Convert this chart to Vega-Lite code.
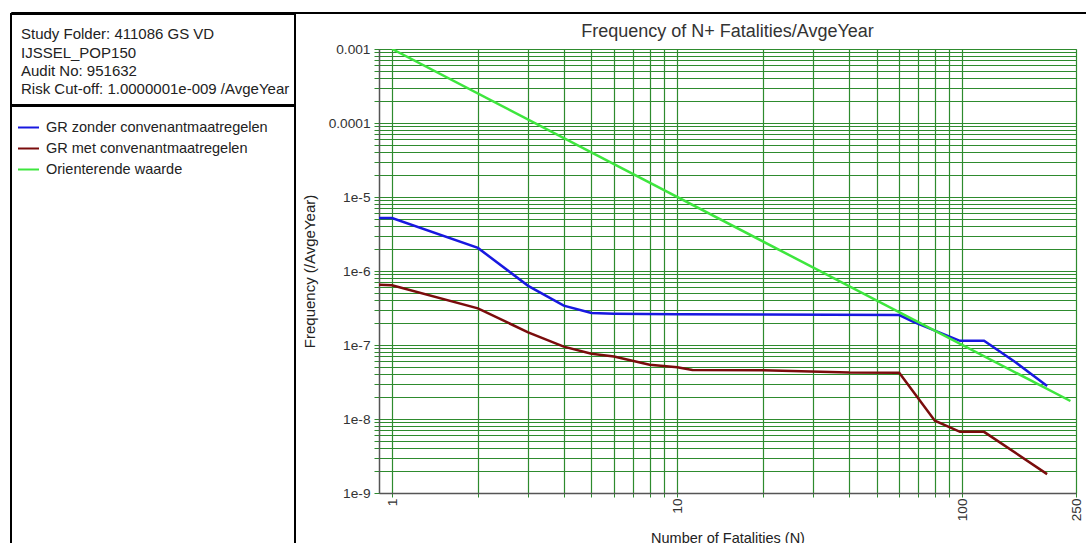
{
  "$schema": "https://vega.github.io/schema/vega-lite/v6.json",
  "background": "white",
  "padding": {"left": 10, "top": 11, "right": 0, "bottom": 0},
  "config": {
    "font": "Liberation Sans",
    "view": {"stroke": "black", "strokeWidth": 2},
    "title": {"fontWeight": "normal", "color": "#333"}
  },
  "spacing": -2,
  "vconcat": [
    {
      "width": 1075,
      "height": 1,
      "view": {"stroke": "black", "strokeWidth": 1},
      "data": {"values": [{"panel": "frame"}]},
      "mark": {"type": "point", "opacity": 0, "size": 0, "strokeWidth": 0},
      "encoding": {
        "x": {"datum": 0, "type": "quantitative", "axis": null},
        "y": {"datum": 0, "type": "quantitative", "axis": null}
      }
    },
    {
      "spacing": 0,
      "hconcat": [
        {
          "spacing": -2,
          "vconcat": [
            {
              "width": 284,
              "height": 91,
              "data": {
                "values": [
                  {"line": 1, "text": "Study Folder: 411086 GS VD"},
                  {"line": 2, "text": "IJSSEL_POP150"},
                  {"line": 3, "text": "Audit No: 951632"},
                  {"line": 4, "text": "Risk Cut-off: 1.0000001e-009 /AvgeYear"}
                ]
              },
              "mark": {"type": "text", "align": "left", "baseline": "middle", "dx": 10, "fontSize": 15, "color": "#222"},
              "encoding": {
                "x": {"datum": 0, "type": "quantitative", "scale": {"domain": [0, 1]}, "axis": null},
                "y": {"field": "line", "type": "quantitative", "scale": {"domain": [-0.128, 4.88], "reverse": true, "nice": false, "zero": false}, "axis": null},
                "text": {"field": "text"}
              }
            },
            {
              "width": 284,
              "height": 447,
              "data": {"values": [{"panel": "legend"}]},
              "mark": {"type": "point", "opacity": 0, "size": 0, "strokeWidth": 0},
              "encoding": {
                "x": {"datum": 0, "type": "quantitative", "axis": null},
                "y": {"datum": 0, "type": "quantitative", "axis": null}
              }
            }
          ]
        },
        {
          "spacing": 7,
          "vconcat": [
            {
              "width": 600,
              "height": 1,
              "view": {"stroke": null},
              "data": {"values": [{"panel": "spacer"}]},
              "mark": {"type": "point", "opacity": 0, "size": 0, "strokeWidth": 0},
              "encoding": {
                "x": {"datum": 0, "type": "quantitative", "axis": null},
                "y": {"datum": 0, "type": "quantitative", "axis": null}
              }
            },
            {
              "width": 697,
              "height": 444,
              "view": {"stroke": "#666", "strokeWidth": 1},
              "title": {"text": "Frequency of N+ Fatalities/AvgeYear", "fontSize": 18, "frame": "group", "anchor": "middle", "offset": 1},
              "data": {
                "values": [
                  {"series": "GR met convenantmaatregelen", "N": 0.9, "F": 6.5e-7},
                  {"series": "GR met convenantmaatregelen", "N": 1, "F": 6.4e-7},
                  {"series": "GR met convenantmaatregelen", "N": 2, "F": 3.13e-7},
                  {"series": "GR met convenantmaatregelen", "N": 3, "F": 1.48e-7},
                  {"series": "GR met convenantmaatregelen", "N": 4, "F": 9.5e-8},
                  {"series": "GR met convenantmaatregelen", "N": 5, "F": 7.6e-8},
                  {"series": "GR met convenantmaatregelen", "N": 6, "F": 7.0e-8},
                  {"series": "GR met convenantmaatregelen", "N": 8, "F": 5.4e-8},
                  {"series": "GR met convenantmaatregelen", "N": 10, "F": 5.0e-8},
                  {"series": "GR met convenantmaatregelen", "N": 11.3, "F": 4.6e-8},
                  {"series": "GR met convenantmaatregelen", "N": 20, "F": 4.55e-8},
                  {"series": "GR met convenantmaatregelen", "N": 40, "F": 4.25e-8},
                  {"series": "GR met convenantmaatregelen", "N": 60, "F": 4.23e-8},
                  {"series": "GR met convenantmaatregelen", "N": 80, "F": 9.5e-9},
                  {"series": "GR met convenantmaatregelen", "N": 98, "F": 6.7e-9},
                  {"series": "GR met convenantmaatregelen", "N": 119, "F": 6.7e-9},
                  {"series": "GR met convenantmaatregelen", "N": 198, "F": 1.8e-9},
                  {"series": "GR zonder convenantmaatregelen", "N": 0.9, "F": 5.2e-6},
                  {"series": "GR zonder convenantmaatregelen", "N": 1, "F": 5.2e-6},
                  {"series": "GR zonder convenantmaatregelen", "N": 2, "F": 2.05e-6},
                  {"series": "GR zonder convenantmaatregelen", "N": 3, "F": 6.3e-7},
                  {"series": "GR zonder convenantmaatregelen", "N": 4, "F": 3.4e-7},
                  {"series": "GR zonder convenantmaatregelen", "N": 5, "F": 2.7e-7},
                  {"series": "GR zonder convenantmaatregelen", "N": 6, "F": 2.65e-7},
                  {"series": "GR zonder convenantmaatregelen", "N": 10, "F": 2.6e-7},
                  {"series": "GR zonder convenantmaatregelen", "N": 60, "F": 2.54e-7},
                  {"series": "GR zonder convenantmaatregelen", "N": 67, "F": 2.07e-7},
                  {"series": "GR zonder convenantmaatregelen", "N": 98, "F": 1.14e-7},
                  {"series": "GR zonder convenantmaatregelen", "N": 119, "F": 1.14e-7},
                  {"series": "GR zonder convenantmaatregelen", "N": 153, "F": 5.9e-8},
                  {"series": "GR zonder convenantmaatregelen", "N": 198, "F": 2.8e-8},
                  {"series": "Orienterende waarde", "N": 1, "F": 0.001},
                  {"series": "Orienterende waarde", "N": 239, "F": 1.75e-8}
                ]
              },
              "mark": {"type": "line", "strokeWidth": 2.5, "clip": true},
              "encoding": {
                "x": {
                  "field": "N",
                  "type": "quantitative",
                  "scale": {"type": "log", "domain": [0.9, 250], "nice": false},
                  "axis": {
                    "title": "Number of Fatalities (N)",
                    "titleFontSize": 14.5,
                    "titleFontWeight": "normal",
                    "titleColor": "#222",
                    "titlePadding": 11,
                    "values": [1, 2, 3, 4, 5, 6, 7, 8, 9, 10, 20, 30, 40, 50, 60, 70, 80, 90, 100, 250],
                    "labelExpr": "datum.value == 1 || datum.value == 10 || datum.value == 100 || datum.value == 250 ? format(datum.value, 'd') : ''",
                    "labelAngle": -90,
                    "labelFontSize": 13.7,
                    "labelColor": "#333",
                    "labelPadding": 1,
                    "labelFlush": false,
                    "labelOverlap": false,
                    "tickSize": 4,
                    "tickColor": "#2e8b2e",
                    "domainColor": "#555",
                    "domainWidth": 1.5,
                    "grid": true,
                    "gridColor": "#2e8b2e",
                    "gridWidth": 1.2,
                    "gridOpacity": 1
                  }
                },
                "y": {
                  "field": "F",
                  "type": "quantitative",
                  "scale": {"type": "log", "domain": [1e-9, 0.001], "nice": false},
                  "axis": {
                    "title": ["", "Frequency (/AvgeYear)"],
                    "titleLineHeight": 5.5,
                    "titleFontSize": 15,
                    "titleFontWeight": "normal",
                    "titleColor": "#222",
                    "titlePadding": 11,
                    "values": [1e-9, 2e-9, 3e-9, 4e-9, 5e-9, 6e-9, 7e-9, 8e-9, 9e-9, 1e-8, 2e-8, 3e-8, 4e-8, 5e-8, 6e-8, 7e-8, 8e-8, 9e-8, 1e-7, 2e-7, 3e-7, 4e-7, 5e-7, 6e-7, 7e-7, 8e-7, 9e-7, 1e-6, 2e-6, 3e-6, 4e-6, 5e-6, 6e-6, 7e-6, 8e-6, 9e-6, 1e-5, 2e-5, 3e-5, 4e-5, 5e-5, 6e-5, 7e-5, 8e-5, 9e-5, 0.0001, 0.0002, 0.0003, 0.0004, 0.0005, 0.0006, 0.0007, 0.0008, 0.0009, 0.001],
                    "labelExpr": "abs(log(datum.value) / LN10 - round(log(datum.value) / LN10)) < 0.000001 ? (datum.value >= 0.0001 ? format(datum.value, '') : '1e' + round(log(datum.value) / LN10)) : ''",
                    "labelFontSize": 13.7,
                    "labelColor": "#333",
                    "labelPadding": 4,
                    "labelOverlap": false,
                    "labelFlush": false,
                    "tickSize": 5,
                    "tickColor": "#2e8b2e",
                    "domainColor": "#555",
                    "domainWidth": 1.5,
                    "grid": true,
                    "gridColor": "#2e8b2e",
                    "gridWidth": 1.2,
                    "gridOpacity": 1
                  }
                },
                "color": {
                  "field": "series",
                  "type": "nominal",
                  "scale": {
                    "domain": ["GR zonder convenantmaatregelen", "GR met convenantmaatregelen", "Orienterende waarde"],
                    "range": ["#1818e0", "#7a0c0c", "#3ee63e"]
                  },
                  "legend": {
                    "title": null,
                    "orient": "none",
                    "legendX": 6,
                    "legendY": 104,
                    "padding": 0,
                    "symbolType": "stroke",
                    "symbolSize": 441,
                    "symbolStrokeWidth": 2,
                    "labelFontSize": 14.5,
                    "labelColor": "#222",
                    "labelOffset": 6,
                    "labelLimit": 400,
                    "rowPadding": 3
                  }
                }
              }
            }
          ]
        }
      ]
    }
  ]
}
